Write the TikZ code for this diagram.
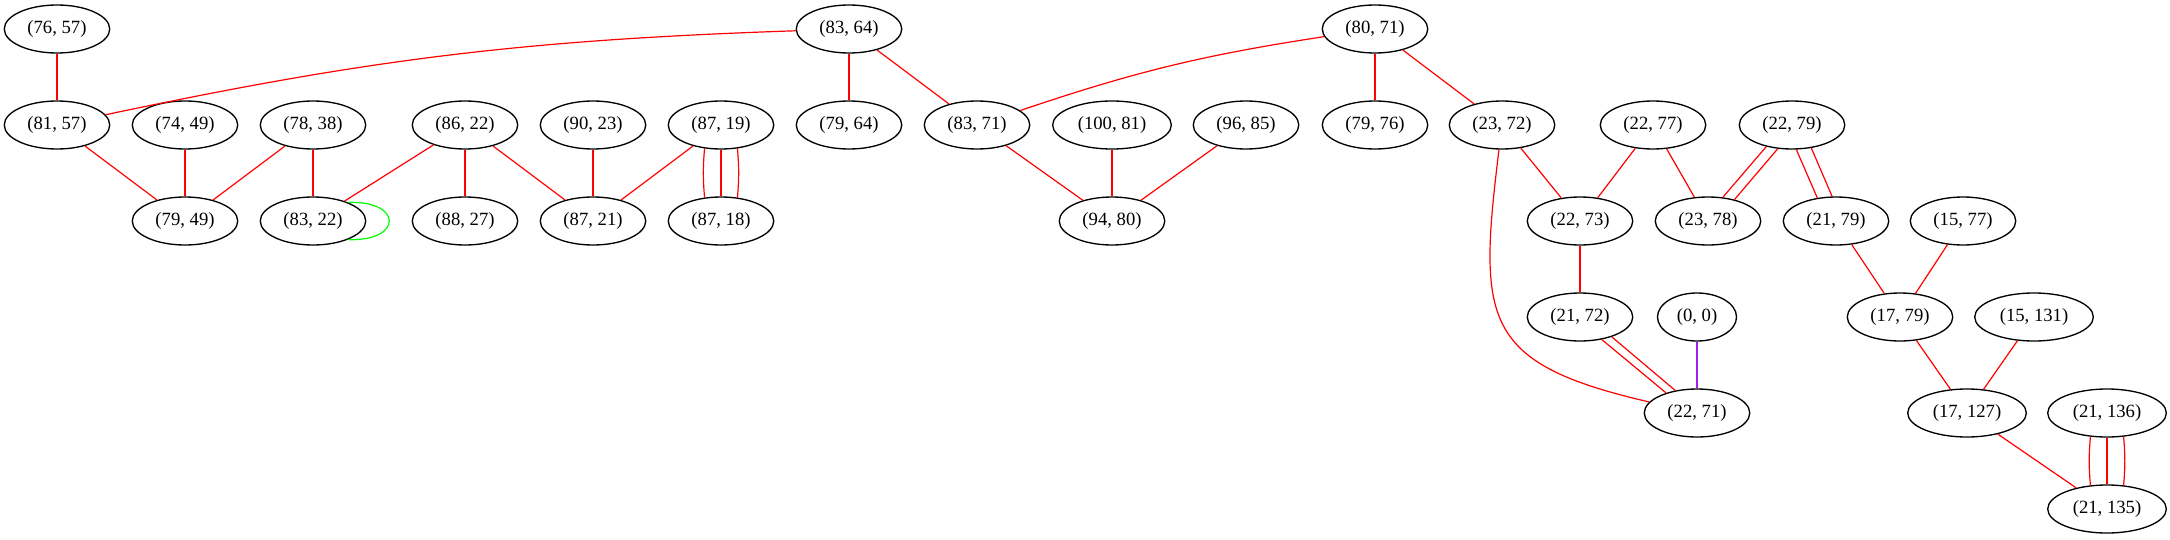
\documentclass[tikz,border=0pt]{standalone}
\usepackage{fontspec}
\setmainfont{Liberation Serif}
\usetikzlibrary{shapes.geometric}

\definecolor{edgepurple}{RGB}{160,32,240}

\begin{document}
\begin{tikzpicture}[
  x=0.75pt, y=0.75pt,
  every node/.style={font=\fontsize{14}{16}\selectfont},
  vert/.style={draw, ellipse, line width=1pt, inner xsep=5.8pt, inner ysep=3pt, minimum height=36pt},
  link/.style={draw=red, line width=0.9pt},
  loopc/.style={draw=green, line width=0.9pt},
  zerolink/.style={draw=edgepurple, line width=0.9pt}
]
  \useasboundingbox (0,0) rectangle (2170,-539);

  \node[vert] (n7657)  at (57,-29)   {(76, 57)};
  \node[vert] (n8364)  at (849,-29)  {(83, 64)};
  \node[vert] (n8071)  at (1375,-29) {(80, 71)};

  \node[vert] (n8157)  at (57,-125)   {(81, 57)};
  \node[vert] (n7449)  at (185,-125)  {(74, 49)};
  \node[vert] (n7838)  at (313,-125)  {(78, 38)};
  \node[vert] (n8622)  at (465,-125)  {(86, 22)};
  \node[vert] (n9023)  at (593,-125)  {(90, 23)};
  \node[vert] (n8719)  at (721,-125)  {(87, 19)};
  \node[vert] (n7964)  at (849,-125)  {(79, 64)};
  \node[vert] (n8371)  at (977,-125)  {(83, 71)};
  \node[vert] (n10081) at (1112,-125) {(100, 81)};
  \node[vert] (n9685)  at (1246,-125) {(96, 85)};
  \node[vert] (n7976)  at (1375,-125) {(79, 76)};
  \node[vert] (n2372)  at (1502,-125) {(23, 72)};
  \node[vert] (n2277)  at (1653,-125) {(22, 77)};
  \node[vert] (n2279)  at (1792,-125) {(22, 79)};

  \node[vert] (n7949)  at (185,-221)  {(79, 49)};
  \node[vert] (n8322)  at (313,-221)  {(83, 22)};
  \node[vert] (n8827)  at (465,-221)  {(88, 27)};
  \node[vert] (n8721)  at (593,-221)  {(87, 21)};
  \node[vert] (n8718)  at (721,-221)  {(87, 18)};
  \node[vert] (n9480)  at (1112,-221) {(94, 80)};
  \node[vert] (n2273)  at (1580,-221) {(22, 73)};
  \node[vert] (n2378)  at (1708,-221) {(23, 78)};
  \node[vert] (n2179)  at (1836,-221) {(21, 79)};
  \node[vert] (n1577)  at (1963,-221) {(15, 77)};

  \node[vert] (n2172)  at (1580,-317) {(21, 72)};
  \node[vert] (n00)    at (1697,-317) {(0, 0)};
  \node[vert] (n1779)  at (1900,-317) {(17, 79)};
  \node[vert] (n15131) at (2034,-317) {(15, 131)};

  \node[vert] (n2271)  at (1697,-413) {(22, 71)};
  \node[vert] (n17127) at (1967,-413) {(17, 127)};
  \node[vert] (n21136) at (2107,-413) {(21, 136)};

  \node[vert] (n21135) at (2107,-509) {(21, 135)};

  \draw[link] (n7657) -- (n8157);
  \draw[link] (n8364) to[bend right=5] (n8157);
  \draw[link] (n8364) -- (n7964);
  \draw[link] (n8364) -- (n8371);
  \draw[link] (n8071) to[bend right=5] (n8371);
  \draw[link] (n8071) -- (n7976);
  \draw[link] (n8071) -- (n2372);

  \draw[link] (n8157) -- (n7949);
  \draw[link] (n7449) -- (n7949);
  \draw[link] (n7838) -- (n7949);
  \draw[link] (n7838) -- (n8322);
  \draw[loopc] (n8322.28) .. controls +(55,2) and +(55,-2) .. (n8322.-28);
  \draw[link] (n8622) -- (n8322);
  \draw[link] (n8622) -- (n8827);
  \draw[link] (n8622) -- (n8721);
  \draw[link] (n9023) -- (n8721);
  \draw[link] (n8719) -- (n8721);
  \draw[link] (n8719.-125) to[bend right=5] (n8718.125);
  \draw[link] (n8719) -- (n8718);
  \draw[link] (n8719.-55) to[bend left=5] (n8718.55);

  \draw[link] (n8371) -- (n9480);
  \draw[link] (n10081) -- (n9480);
  \draw[link] (n9685) -- (n9480);

  \draw[link] (n2372) -- (n2273);
  \draw[link] (n2372) to[out=-97, in=167, looseness=1.5] (n2271);
  \draw[link] (n2277) -- (n2273);
  \draw[link] (n2277) -- (n2378);
  \draw[link] (n2279.-121.7) -- (n2378.39.3);
  \draw[link] (n2279.-140.7) -- (n2378.58.3);
  \draw[link] (n2279.-50.4) -- (n2179.99.6);
  \draw[link] (n2279.-80.4) -- (n2179.129.6);
  \draw[link] (n2273) -- (n2172);
  \draw[link] (n2172.-32.8) -- (n2271.134);
  \draw[link] (n2172.-46) -- (n2271.147.2);
  \draw[zerolink] (n00) -- (n2271);
  \draw[link] (n2179) -- (n1779);
  \draw[link] (n1577) -- (n1779);
  \draw[link] (n1779) -- (n17127);
  \draw[link] (n15131) -- (n17127);
  \draw[link] (n17127) -- (n21135);
  \draw[link] (n21136.-125) to[bend right=5] (n21135.125);
  \draw[link] (n21136) -- (n21135);
  \draw[link] (n21136.-55) to[bend left=5] (n21135.55);
\end{tikzpicture}
\end{document}
